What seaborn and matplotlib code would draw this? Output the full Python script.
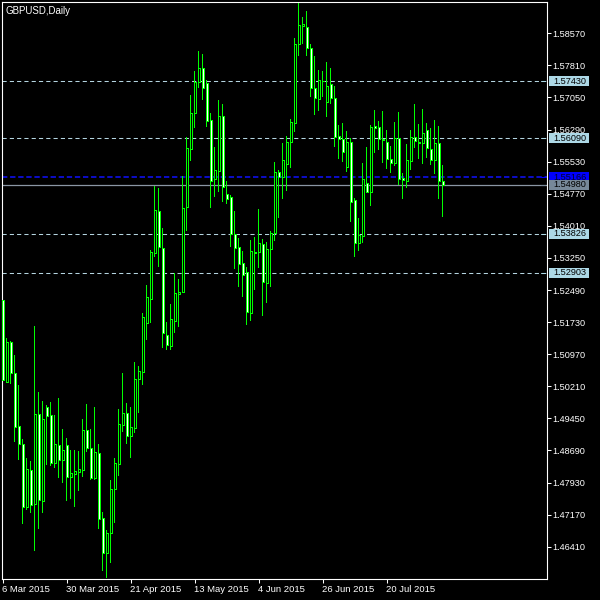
import matplotlib
matplotlib.use("Agg")
import matplotlib.pyplot as plt
import matplotlib.transforms as mtransforms
from matplotlib.patches import Rectangle
import seaborn as sns
import numpy as np
import pandas as pd

symbol_title = "GBPUSD,Daily"

opens = [1.52253, 1.50311, 1.51259, 1.50524, 1.49269, 1.48843, 1.47351, 1.48227, 1.47422, 1.49553,
         1.47493, 1.49719, 1.49530, 1.48393, 1.48819, 1.48464, 1.48819, 1.48061, 1.48132, 1.48180,
         1.48227, 1.49174, 1.48748, 1.48038, 1.48630, 1.47090, 1.46261, 1.46735, 1.47777, 1.48369,
         1.49293, 1.49577, 1.49032, 1.49222, 1.50382, 1.50548, 1.51709, 1.52277, 1.53367, 1.54361,
         1.53485, 1.51425, 1.51164, 1.51756, 1.52396, 1.52443, 1.54456, 1.55830, 1.56683, 1.57417,
         1.57748, 1.57393, 1.56517, 1.55119, 1.55309, 1.56612, 1.54764, 1.54693, 1.53817, 1.53509,
         1.53130, 1.52917, 1.51946, 1.53390, 1.53390, 1.53580, 1.52656, 1.53461, 1.53840, 1.55285,
         1.55167, 1.55475, 1.55996, 1.56446, 1.58317, 1.58743, 1.58720, 1.58222, 1.57275, 1.57014,
         1.57441, 1.56943, 1.57369, 1.57038, 1.56138, 1.56067, 1.55404, 1.55996, 1.54622, 1.53604,
         1.53769, 1.55025, 1.54811, 1.56375, 1.56351, 1.56067, 1.55996, 1.55593, 1.55498, 1.56090,
         1.55143, 1.55072, 1.55546, 1.56114, 1.55996, 1.55972, 1.56280, 1.55830, 1.55569, 1.55972,
         1.55072]
highs = [1.52396, 1.51353, 1.51282, 1.50951, 1.50240, 1.48961, 1.48511, 1.48440, 1.51638, 1.50074,
         1.49861, 1.49767, 1.49838, 1.49530, 1.49932, 1.49198, 1.48985, 1.48701, 1.48701, 1.48677,
         1.49435, 1.49790, 1.49198, 1.49719, 1.48843, 1.47232, 1.46806, 1.47990, 1.48511, 1.49672,
         1.50524, 1.49814, 1.49719, 1.50785, 1.50690, 1.51946, 1.52609, 1.53438, 1.54954, 1.54906,
         1.53959, 1.51732, 1.52159, 1.52893, 1.52751, 1.55190, 1.56114, 1.57109, 1.57677, 1.58151,
         1.58080, 1.57464, 1.56683, 1.55877, 1.56990, 1.56896, 1.55072, 1.54740, 1.54361, 1.53722,
         1.53414, 1.53035, 1.53675, 1.53746, 1.54409, 1.53698, 1.53627, 1.53888, 1.55522, 1.55333,
         1.55972, 1.56138, 1.56541, 1.58459, 1.59288, 1.58956, 1.59098, 1.58317, 1.58033, 1.57701,
         1.57677, 1.57891, 1.57748, 1.57322, 1.56398, 1.56446, 1.56256, 1.56090, 1.54669, 1.54196,
         1.55498, 1.55877, 1.56398, 1.56754, 1.56493, 1.56730, 1.56280, 1.55901, 1.56469, 1.56706,
         1.55261, 1.55948, 1.56280, 1.56896, 1.56422, 1.56777, 1.56446, 1.56327, 1.56517, 1.56375,
         1.55451]
lows = [1.50311, 1.50288, 1.50264, 1.48890, 1.48464, 1.46948, 1.47280, 1.47209, 1.46309, 1.46830,
        1.47209, 1.48345, 1.48322, 1.48274, 1.48038, 1.47919, 1.47493, 1.47540, 1.47351, 1.47730,
        1.48061, 1.48653, 1.47990, 1.47990, 1.46830, 1.45835, 1.45669, 1.46024, 1.46972, 1.48085,
        1.49127, 1.48843, 1.48511, 1.49103, 1.49577, 1.50240, 1.51306, 1.51709, 1.53272, 1.53035,
        1.51117, 1.51069, 1.51069, 1.51472, 1.51614, 1.52419, 1.53888, 1.55546, 1.56327, 1.57275,
        1.56990, 1.56351, 1.54433, 1.54693, 1.54811, 1.54575, 1.54527, 1.53509, 1.52988, 1.52561,
        1.52325, 1.51661, 1.51756, 1.52490, 1.53011, 1.51875, 1.52182, 1.52561, 1.53651, 1.54196,
        1.54646, 1.54835, 1.55380, 1.56233, 1.58033, 1.58317, 1.58033, 1.57062, 1.56635, 1.56730,
        1.57062, 1.56588, 1.56896, 1.55877, 1.55593, 1.55522, 1.55285, 1.54101, 1.53272, 1.53414,
        1.53604, 1.54788, 1.54480, 1.55735, 1.55806, 1.55498, 1.55356, 1.55261, 1.55427, 1.54977,
        1.54646, 1.54906, 1.55333, 1.55854, 1.55593, 1.55475, 1.55617, 1.55451, 1.55238, 1.54646,
        1.54219]
closes = [1.50359, 1.51259, 1.50524, 1.49246, 1.48843, 1.47351, 1.48251, 1.47398, 1.49553, 1.47516,
          1.49435, 1.49506, 1.48393, 1.48843, 1.48464, 1.48701, 1.48061, 1.48156, 1.48203, 1.48251,
          1.49174, 1.48748, 1.48038, 1.48653, 1.47066, 1.46261, 1.46735, 1.47777, 1.48393, 1.49317,
          1.49577, 1.49032, 1.49246, 1.50382, 1.50572, 1.51851, 1.52325, 1.53390, 1.54385, 1.53509,
          1.51472, 1.51188, 1.51803, 1.52419, 1.52443, 1.54433, 1.55854, 1.56683, 1.57417, 1.57748,
          1.57275, 1.56493, 1.55072, 1.55333, 1.56612, 1.54930, 1.54646, 1.53817, 1.53485, 1.53106,
          1.52846, 1.51969, 1.53414, 1.53367, 1.53604, 1.52680, 1.53461, 1.53840, 1.55285, 1.55167,
          1.55569, 1.55996, 1.56469, 1.58317, 1.58767, 1.58791, 1.58222, 1.57275, 1.57038, 1.57464,
          1.57430, 1.57322, 1.57038, 1.56114, 1.56067, 1.55759, 1.55996, 1.54575, 1.53604, 1.53793,
          1.55119, 1.54811, 1.56351, 1.56327, 1.56067, 1.56043, 1.55593, 1.55498, 1.56090, 1.55119,
          1.55096, 1.55569, 1.56114, 1.56019, 1.55972, 1.56209, 1.55854, 1.55569, 1.55972, 1.55072,
          1.54980]

date_tick_bars = [0, 16, 32, 48, 64, 80, 96]
date_tick_labels = ["6 Mar 2015", "30 Mar 2015", "21 Apr 2015", "13 May 2015",
                    "4 Jun 2015", "26 Jun 2015", "20 Jul 2015"]
price_ticks = [1.58570, 1.57810, 1.57050, 1.56290, 1.55530, 1.54770, 1.54010, 1.53250,
               1.52490, 1.51730, 1.50970, 1.50210, 1.49450, 1.48690, 1.47930, 1.47170, 1.46410]
level_prices = [1.57430, 1.56090, 1.53826, 1.52903]
ask_price = 1.55166
bid_price = 1.54980

sns.set_theme(style="dark", rc={
    "axes.facecolor": "black", "figure.facecolor": "black",
    "axes.edgecolor": "white", "axes.linewidth": 0.8,
    "axes.grid": False,
})
plt.rcParams['font.family'] = ['Liberation Sans', 'DejaVu Sans']

df = pd.DataFrame({"open": opens, "high": highs, "low": lows, "close": closes})
df["bar"] = np.arange(len(df))
df["bull"] = df["close"] >= df["open"]

W, H = 600, 600
fig = plt.figure(figsize=(6, 6), dpi=100, facecolor="black")
ax = fig.add_axes([2 / W, 21 / H, 545 / W, 577 / H])
ax.set_facecolor("black")

green = "#00ff00"
# wicks (1 px wide green bars from low to high)
wicks = ax.bar(df["bar"], df["high"] - df["low"], bottom=df["low"], width=0.25,
               color=green, edgecolor="none", linewidth=0, zorder=2)
for w in wicks:
    w.set_antialiased(False)
# bodies
bottoms = np.minimum(df["open"], df["close"])
heights = np.maximum(np.abs(df["close"] - df["open"]), 0.00002)
fills = np.where(df["bull"], "black", "white")
bars = ax.bar(df["bar"], heights, bottom=bottoms, width=0.5, color=fills,
              edgecolor=green, linewidth=0.72, zorder=3)
for b in bars:
    b.set_antialiased(False)

# levels
for p in level_prices:
    ax.axhline(p, color="#b4d4e0", linewidth=0.75, dashes=(4, 3), zorder=1)
ax.axhline(ask_price, color="#1010ff", linewidth=1.1, dashes=(3.5, 1.8), zorder=1)
ax.axhline(bid_price, color="#8a96a4", linewidth=0.9, zorder=1)

ax.set_xlim(-0.125, 136.125)
ax.set_ylim(1.45645, 1.59312)

# axes styling
for s in ax.spines.values():
    s.set_color("white")
    s.set_linewidth(0.8)
ax.yaxis.tick_right()
ax.set_yticks(price_ticks)
ax.set_yticklabels([f"{v:.5f}" for v in price_ticks])
ax.tick_params(axis="y", colors="white", length=3, width=0.75, pad=1.2,
               labelsize=6.6, direction="out", right=True, left=False)
ax.set_xticks(date_tick_bars)
ax.set_xticklabels(date_tick_labels, ha="left")
ax.tick_params(axis="x", colors="white", length=3, width=0.75, pad=1.5,
               labelsize=6.8, direction="out", bottom=True)
for lbl in ax.get_xticklabels():
    lbl.set_horizontalalignment("left")

# price boxes on right axis
trans = mtransforms.blended_transform_factory(ax.transAxes, ax.transData)
px = 0.13667 / 577.0
bx0 = (549 - 2) / 545.0
bw = 40 / 545.0
tx = (553 - 2) / 545.0
boxes = [(p, "#add8e6", "black") for p in level_prices] + [(ask_price, "#0000ff", "#000030"),
                                                         (bid_price, "#778899", "black")]
for p, fc, tc in boxes:
    r = Rectangle((bx0, p - 5 * px), bw, 10 * px, transform=trans, facecolor=fc,
                  edgecolor="none", clip_on=False, zorder=6)
    ax.add_patch(r)
    ax.text(tx, p, f"{p:.5f}", transform=trans, color=tc, fontsize=6.6,
            va="center", ha="left", clip_on=False, zorder=7)
    ax.plot([(541 - 2) / 545.0, (545 - 2) / 545.0], [p, p], transform=trans,
            color=fc, linewidth=0.75, clip_on=False, zorder=6)

fig.text(5 / W, 1 - 10.5 / H, symbol_title, color="white", fontsize=7,
         ha="left", va="center")

fig.savefig("out.png", dpi=100, facecolor="black")
